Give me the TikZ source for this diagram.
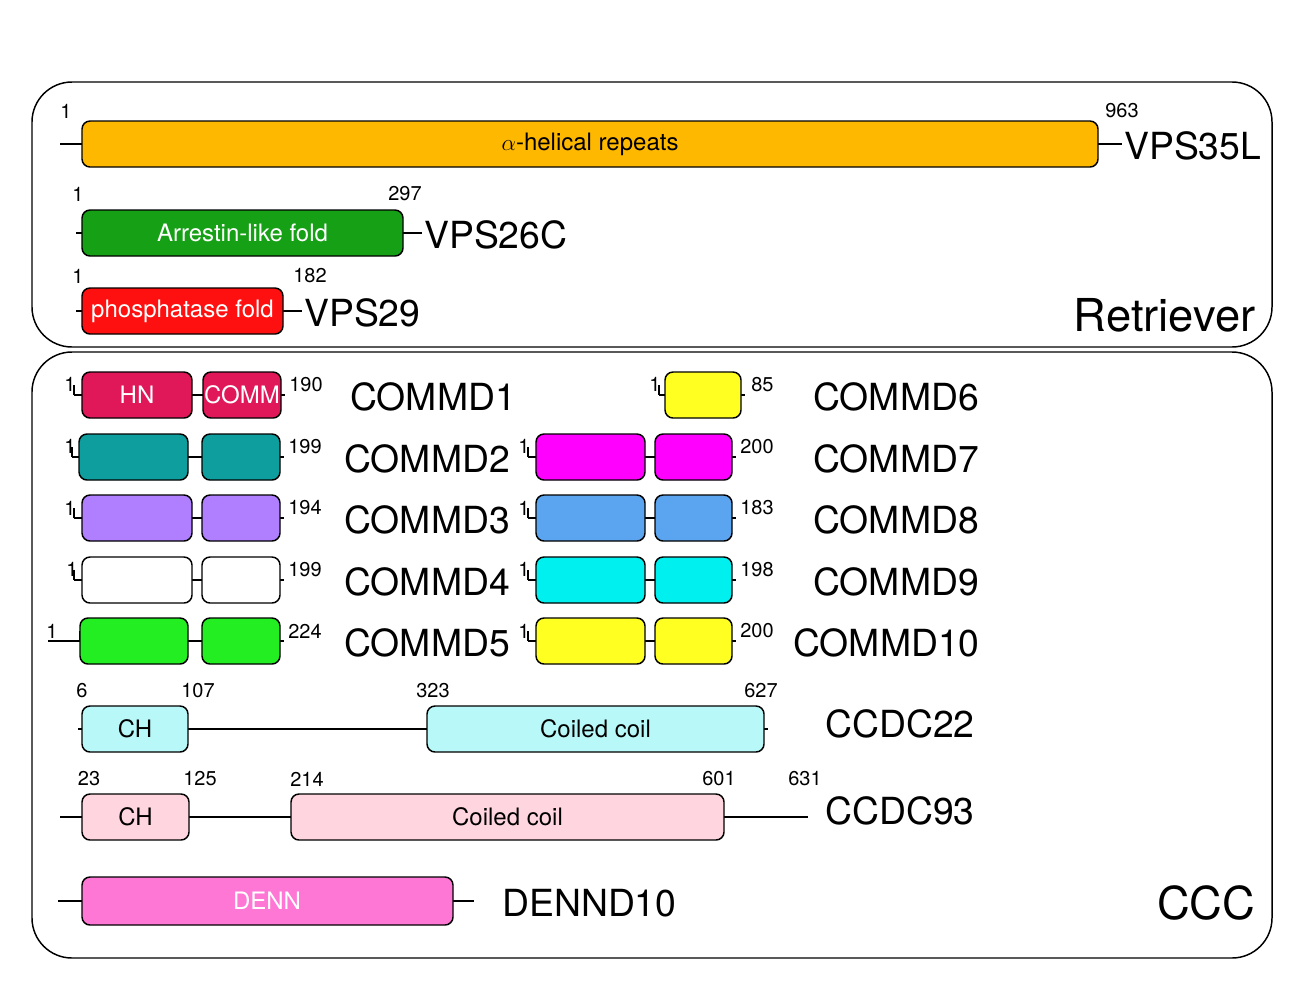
\documentclass[tikz,border=0pt]{standalone}
\usepackage{fontspec}
\setmainfont{TeX Gyre Heros}
\begin{document}
\newcommand\dbox[6]{\draw[dom,fill=#5] (#2,#4-23) rectangle (#3,#4+23); \node[dtxt] (#1) at ({(#2+#3)/2},#4) {#6};}
\begin{tikzpicture}[x=0.75pt,y=-0.75pt,
 dom/.style={draw=black,line width=1.1pt,rounded corners=6pt},
 ln/.style={line width=1.5pt},
 num/.style={font=\fontsize{15}{15}\selectfont,inner sep=0pt},
 lab/.style={font=\fontsize{28}{28}\selectfont,anchor=west,inner sep=0pt},
 dtxt/.style={font=\fontsize{18}{18}\selectfont,inner sep=0pt},
 frame/.style={draw=black,line width=1.1pt,rounded corners=30pt}]
\useasboundingbox (0,0) rectangle (1295,982);
\definecolor{c1}{HTML}{FFB800}\definecolor{c2}{HTML}{16A016}\definecolor{c3}{HTML}{FF1010}
\definecolor{c4}{HTML}{E0185A}\definecolor{c5}{HTML}{0E9E9E}\definecolor{c6}{HTML}{B07FFF}
\definecolor{c7}{HTML}{22EE22}\definecolor{c8}{HTML}{FF00FF}\definecolor{c9}{HTML}{5BA5F0}
\definecolor{c10}{HTML}{00F0F0}\definecolor{c11}{HTML}{FFFF22}\definecolor{c12}{HTML}{B8F8F8}
\definecolor{c13}{HTML}{FFD5E0}\definecolor{c14}{HTML}{FF77D5}
% frames
\draw[frame] (32,82) rectangle (1272,347);
\draw[frame] (32,352) rectangle (1272,958);
\node[font=\fontsize{34}{34}\selectfont,anchor=east] (ret) at (1260,315) {Retriever};
\node[font=\fontsize{34}{34}\selectfont,anchor=east] (ccc) at (1260,903) {CCC};
% VPS35L
\draw[ln] (60,144) -- (1122,144);
\dbox{a1}{82}{1098}{144}{c1}{$\alpha$-helical repeats}
\node[lab] (vps35l) at (1124,146) {VPS35L};
\node[num] at (66,111) {1}; \node[num] at (1122,111) {963};
% VPS26C
\draw[ln] (76,233) -- (422,233);
\dbox{a2}{82}{403}{233}{c2}{\color{white}Arrestin-like fold}
\node[lab] (vps26c) at (424,235) {VPS26C};
\node[num] at (78,194) {1}; \node[num] at (405,194) {297};
% VPS29
\draw[ln] (76,311) -- (302,311);
\dbox{a3}{82}{283}{311}{c3}{\color{white}phosphatase fold}
\node[lab] (vps29) at (304,313) {VPS29};
\node[num] at (78,276) {1}; \node[num] at (310,276) {182};
% COMMD left column
\newcommand\commd[9]{% y, x0, b1a, b1b, b2a, b2b, xend, color, number
 \draw[ln] (#2,#1) -- (#7,#1); \draw[ln] (#2,#1) -- (#2,#1-10);
 \dbox{l#1a}{#3}{#4}{#1}{#8}{} \dbox{l#1b}{#5}{#6}{#1}{#8}{}
 \node[num,anchor=west] at (#7+4,#1-10) {#9};}
\commd{395}{74}{82}{192}{203}{281}{285}{c4}{190}
\node[dtxt,text=white] at (137,395) {HN}; \node[dtxt,text=white] at (242,395) {COMM};
\node[num] at (70,384) {1};
\node[lab] (m1) at (350,397) {COMMD1};
\commd{457}{72}{79}{188}{202}{280}{284}{c5}{199}\node[num] at (70,446) {1};
\node[lab] (m2) at (344,459) {COMMD2};
\commd{518}{74}{82}{192}{202}{280}{284}{c6}{194}\node[num] at (70,508) {1};
\node[lab] (m3) at (344,520) {COMMD3};
\commd{580}{74}{82}{192}{202}{280}{284}{white}{199}\node[num] at (72,569) {1};
\node[lab] (m4) at (344,582) {COMMD4};
\draw[ln] (48,641) -- (80,641);
\commd{641}{80}{80}{188}{202}{280}{284}{c7}{224}\node[num] at (52,631) {1};
\node[lab] (m5) at (344,643) {COMMD5};
% right column
\draw[ln] (659,395) -- (745,395); \draw[ln] (659,395) -- (659,385);
\dbox{r6}{665}{741}{395}{c11}{}
\node[num] at (655,384) {1}; \node[num,anchor=west] at (751,385) {85};
\node[lab] (m6) at (813,397) {COMMD6};
\commd{457}{528}{536}{645}{655}{732}{736}{c8}{200}\node[num] at (524,446) {1};
\node[lab] (m7) at (813,459) {COMMD7};
\commd{518}{528}{536}{645}{655}{732}{736}{c9}{183}\node[num] at (524,508) {1};
\node[lab] (m8) at (813,520) {COMMD8};
\commd{580}{528}{536}{645}{655}{732}{736}{c10}{198}\node[num] at (524,569) {1};
\node[lab] (m9) at (813,582) {COMMD9};
\commd{641}{528}{536}{645}{655}{732}{736}{c11}{200}\node[num] at (524,631) {1};
\node[lab] (m10) at (793,643) {COMMD10};
% CCDC22
\draw[ln] (78,729) -- (768,729);
\dbox{ch1}{82}{188}{729}{c12}{CH}
\dbox{cc1}{427}{764}{729}{c12}{Coiled coil}
\node[num] at (82,691) {6}; \node[num] at (198,691) {107}; \node[num] at (433,691) {323}; \node[num] at (761,691) {627};
\node[lab] (cd22) at (825,724) {CCDC22};
% CCDC93
\draw[ln] (60,817) -- (808,817);
\dbox{ch2}{82}{189}{817}{c13}{CH}
\dbox{cc2}{291}{724}{817}{c13}{Coiled coil}
\node[num] at (89,779) {23}; \node[num] at (200,779) {125}; \node[num] at (307,779) {214}; \node[num] at (719,779) {601}; \node[num] at (805,779) {631};
\node[lab] (cd93) at (825,811) {CCDC93};
% DENND10
\draw[ln] (58,901) -- (474,901);
\draw[dom,fill=c14] (82,877) rectangle (453,925);
\node[dtxt,text=white] (denn) at (267,901) {DENN};
\node[lab] (dd10) at (502,903) {DENND10};
\end{tikzpicture}
\end{document}
